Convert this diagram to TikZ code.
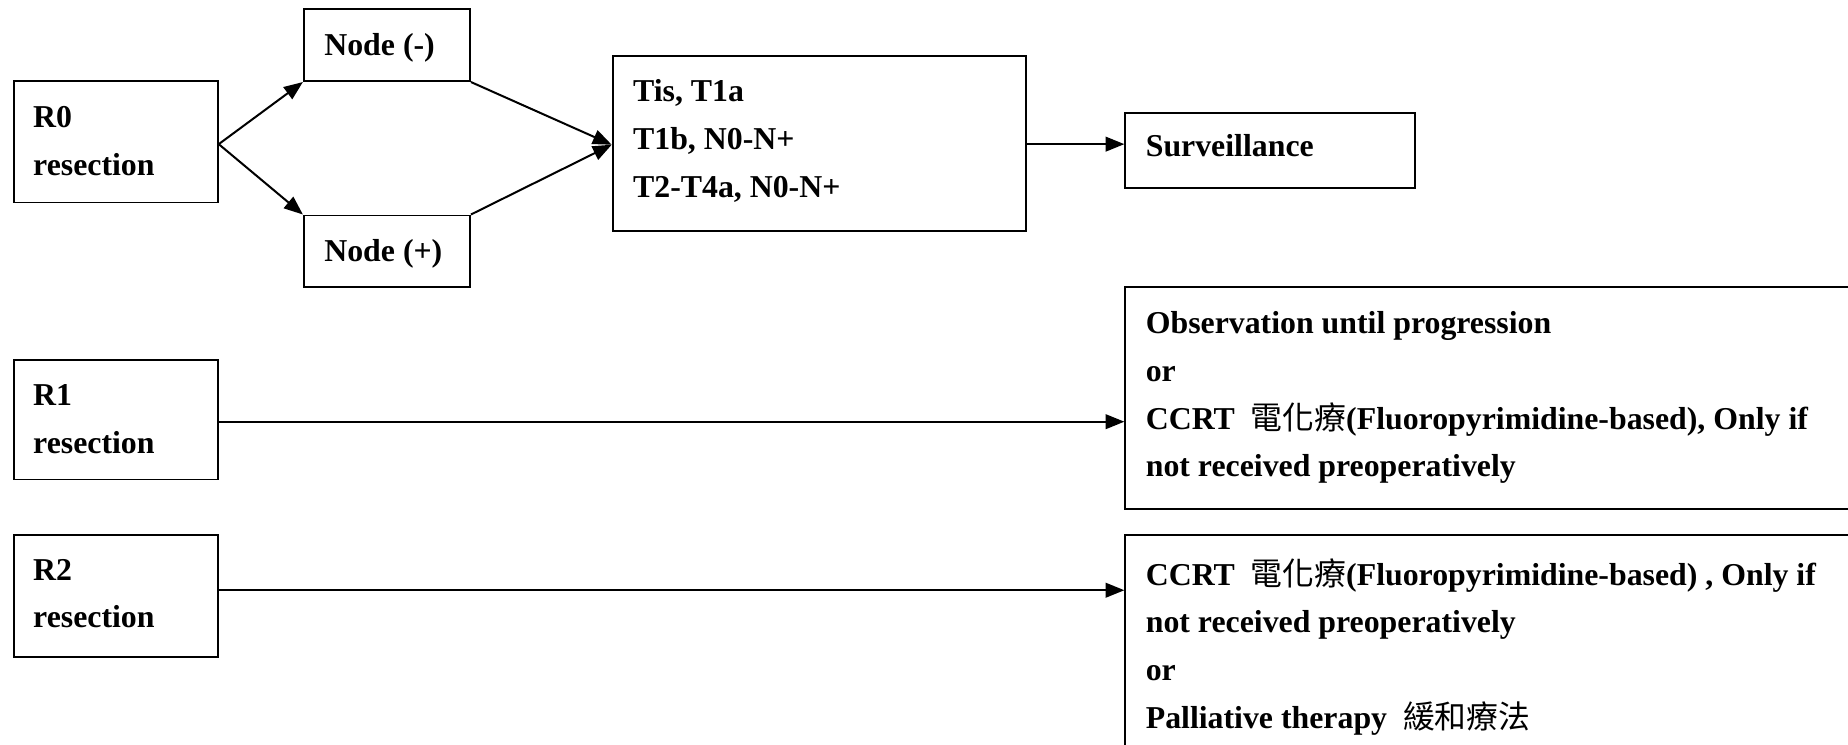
\documentclass[tikz,border=0pt]{standalone}
\usepackage{fontspec}
\setmainfont{Liberation Serif}
\newfontfamily\cjkfont{Noto Sans CJK TC}
\usetikzlibrary{arrows.meta}
\newcommand\firststrut{\rule{0pt}{20pt}}
\tikzset{
  box/.style={draw, line width=1.6pt, rectangle, inner sep=0pt, anchor=north west},
  txt/.style={anchor=north west, inner sep=0pt, align=left,
    font=\fontsize{27}{40.5}\selectfont\bfseries},
  arr/.style={line width=1.7pt, -{Triangle[length=16pt,width=12.5pt]}},
}
\begin{document}
\begin{tikzpicture}[x=1pt,y=-1pt]
\useasboundingbox (0,0) rectangle (1568,632);
\clip (0,0) rectangle (1568,632);
% boxes
\node[box, minimum width=173pt, minimum height=103pt] (r0) at (11,68) {};
\node[box, minimum width=141pt, minimum height=61pt] (nm) at (257,7) {};
\node[box, minimum width=141pt, minimum height=61pt] (np) at (257,182) {};
\node[box, minimum width=351pt, minimum height=148pt] (t) at (519,47) {};
\node[box, minimum width=246pt, minimum height=64pt] (sv) at (954,95) {};
\node[box, minimum width=173pt, minimum height=101pt] (r1) at (11,305) {};
\node[box, minimum width=173pt, minimum height=104pt] (r2) at (11,453) {};
\node[box, minimum width=660pt, minimum height=188pt] (obs) at (954,243) {};
\node[box, minimum width=660pt, minimum height=220pt] (pal) at (954,453) {};
% texts
\node[txt] (r0t) at (28,88) {\firststrut R0\\resection};
\node[txt] (nmt) at (275,27) {\firststrut Node (-)};
\node[txt] (npt) at (275,202) {\firststrut Node (+)};
\node[txt] (tt) at (537,66) {\firststrut Tis, T1a\\T1b, N0-N+\\T2-T4a, N0-N+};
\node[txt] (svt) at (972,113) {\firststrut Surveillance};
\node[txt] (r1t) at (28,324) {\firststrut R1\\resection};
\node[txt] (r2t) at (28,472) {\firststrut R2\\resection};
\node[txt] (obst) at (972,263) {\firststrut Observation until progression\\or\\CCRT\ \ {\cjkfont\mdseries 電化療}(Fluoropyrimidine-based), Only if\\not received preoperatively};
\node[txt] (palt) at (972,473.5) {\firststrut CCRT\ \ {\cjkfont\mdseries 電化療}(Fluoropyrimidine-based) , Only if\\not received preoperatively\\or\\Palliative therapy\ \ {\cjkfont\mdseries 緩和療法}};
% connectors
\coordinate (r0o) at ([yshift=-2pt]r0.east);
\draw[arr] (r0o) -- (nm.south west);
\draw[arr] (r0o) -- (np.north west);
\coordinate (tin) at ([yshift=-1pt]t.west);
\draw[arr] (nm.south east) -- (tin);
\draw[arr] (np.north east) -- (tin);
\coordinate (tout) at ([yshift=-0.5pt]t.east);
\draw[arr] (tout) -- (tout -| sv.west);
\coordinate (r1o) at ([yshift=-1.5pt]r1.east);
\draw[arr] (r1o) -- (r1o -| obs.west);
\coordinate (r2o) at ([yshift=5pt]r2.east);
\draw[arr] (r2o) -- (r2o -| pal.west);
\end{tikzpicture}
\end{document}
